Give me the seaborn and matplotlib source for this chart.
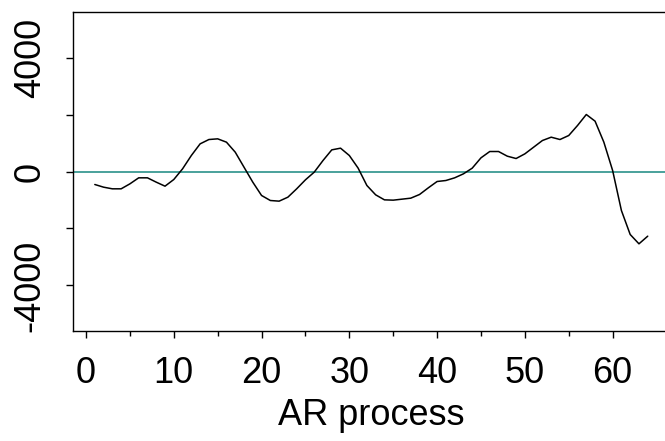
import numpy as np
import pandas as pd
import matplotlib
matplotlib.use("Agg")
import matplotlib.pyplot as plt
import seaborn as sns

# values (index 1..64)
t = list(range(1, 65))
ar_values = [
    -456, -550, -608, -608, -433, -222, -222, -374, -515, -281,
      94,  562,  971, 1123, 1147, 1030,  679,  152, -374, -842,
   -1018, -1041, -901, -608, -292,  -23,  386,  760,  819,  562,
     120, -491, -819, -995, -1006, -971, -936, -807, -573, -351,
    -316, -222,  -82,  117,  480,  702,  702,  538,  456,  620,
     854, 1088, 1205, 1123, 1264, 1615, 2001, 1767, 1030,   35,
   -1369, -2211, -2539, -2270,
]
x_major = [0, 10, 20, 30, 40, 50, 60]
x_minor = [5, 15, 25, 35, 45, 55]
y_major = [-4000, 0, 4000]
y_minor = [-2000, 2000]

df = pd.DataFrame({"t": t, "value": ar_values})

sns.set_style("white")
plt.rcParams["font.family"] = ["Liberation Sans", "DejaVu Sans"]
plt.rcParams["axes.unicode_minus"] = False
plt.rcParams["text.color"] = "black"
plt.rcParams["axes.labelcolor"] = "black"
plt.rcParams["xtick.color"] = "black"
plt.rcParams["ytick.color"] = "black"

fig = plt.figure(figsize=(6.65, 4.41), dpi=100)
# right edge of the box sits just past the image edge, as in the reference
ax = fig.add_axes([0.1093, 0.2494, 0.898, 0.7234])

sns.lineplot(data=df, x="t", y="value", ax=ax, color="black", linewidth=1.1)
ax.axhline(0, color="#3A9A93", linewidth=1.3, zorder=1)

ax.set_xlim(-1.52, 66.52)
ax.set_ylim(-5600, 5600)

ax.set_xticks(x_major)
ax.set_xticks(x_minor, minor=True)
ax.set_yticks(y_major)
ax.set_yticks(y_minor, minor=True)

ax.tick_params(axis="both", which="both", direction="out", colors="black",
               width=1.0, labelsize=26, bottom=True, left=True)
ax.tick_params(axis="x", which="major", length=5, pad=13)
ax.tick_params(axis="x", which="minor", length=3.5)
ax.tick_params(axis="y", which="both", length=5, pad=13)
ax.tick_params(axis="y", labelrotation=90)
for lab in ax.get_yticklabels():
    lab.set_va("center")

for side in ["left", "bottom", "top"]:
    ax.spines[side].set_color("black")
    ax.spines[side].set_linewidth(1.0)
ax.spines["right"].set_visible(False)

ax.set_xlabel("AR process", fontsize=26, labelpad=5, color="black")
ax.set_ylabel("")

fig.savefig("out.png", dpi=100, facecolor="white")
